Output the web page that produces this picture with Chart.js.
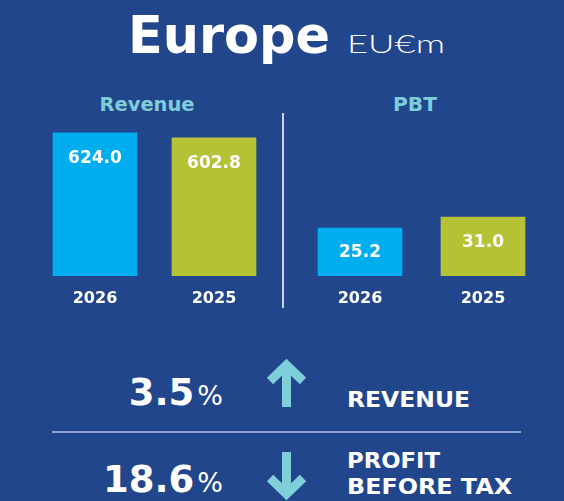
<!DOCTYPE html>
<html>
<head>
<meta charset="utf-8">
<script src="https://cdn.jsdelivr.net/npm/chart.js@4.4.1/dist/chart.umd.min.js"></script>
<style>
  html, body { margin: 0; padding: 0; }
  body { width: 564px; height: 501px; background: #22468c; position: relative; overflow: hidden; font-family: "DejaVu Sans", sans-serif; }
  svg { position: absolute; left: 0; top: 0; }
  .box { position: absolute; }
</style>
</head>
<body>
<script>
// ---- data ----
const categories = ['2026', '2025'];
const revenueValues = [624.0, 602.8];
const pbtValues = [25.2, 31.0];
const panelTitles = ['Revenue', 'PBT'];
const changeValues = ['3.5', '18.6'];
const changeDirections = ['up', 'down'];
const changeLabels = [['REVENUE'], ['PROFIT', 'BEFORE TAX']];
const revenueAxisMax = 680;
const pbtAxisMax = 82;
</script>

<svg width="564" height="501" xmlns="http://www.w3.org/2000/svg" id="deco">
  <text x="128" y="53" font-family="DejaVu Sans" font-weight="bold" font-size="51" fill="#ffffff" textLength="202" lengthAdjust="spacingAndGlyphs">Europe</text>
  <text x="347" y="53" font-family="Lato, DejaVu Sans" font-weight="300" font-size="25" fill="#ffffff" textLength="98" lengthAdjust="spacingAndGlyphs">EU€m</text>
  <text id="t0" x="147" y="111" text-anchor="middle" font-family="DejaVu Sans" font-weight="bold" font-size="20" fill="#7ecdda" textLength="95" lengthAdjust="spacingAndGlyphs"></text>
  <text id="t1" x="415" y="111" text-anchor="middle" font-family="DejaVu Sans" font-weight="bold" font-size="20" fill="#7ecdda" textLength="44" lengthAdjust="spacingAndGlyphs"></text>
  <line x1="283" y1="113" x2="283" y2="308" stroke="#c6d0ea" stroke-width="2"/>
  <line x1="52" y1="432" x2="521" y2="432" stroke="#8fa2cf" stroke-width="2"/>
  <g id="changes"></g>
</svg>

<div class="box" style="left:0px;top:113px;width:290px;height:220px;"><canvas id="rev"></canvas></div>
<div class="box" style="left:282px;top:113px;width:282px;height:220px;"><canvas id="pbt"></canvas></div>

<script>
document.getElementById('t0').textContent = panelTitles[0];
document.getElementById('t1').textContent = panelTitles[1];

// change rows
const NS = 'http://www.w3.org/2000/svg';
const g = document.getElementById('changes');
const rowBaselines = [405, 492];
const arrowColor = '#7fcfdb';
function el(name, attrs, text) {
  const e = document.createElementNS(NS, name);
  for (const k in attrs) e.setAttribute(k, attrs[k]);
  if (text !== undefined) e.textContent = text;
  g.appendChild(e);
  return e;
}
changeValues.forEach((v, i) => {
  const base = rowBaselines[i];
  const t = el('text', { x: 223, y: base, 'text-anchor': 'end', 'font-family': 'DejaVu Sans', fill: '#ffffff' });
  const a = document.createElementNS(NS, 'tspan');
  a.setAttribute('font-weight', 'bold'); a.setAttribute('font-size', '37');
  a.textContent = v;
  const b = document.createElementNS(NS, 'tspan');
  b.setAttribute('font-size', '27'); b.setAttribute('dx', '3');
  b.textContent = '%';
  t.appendChild(a); t.appendChild(b);
  // arrow
  if (changeDirections[i] === 'up') {
    const top = base - 43, bottom = base + 2;
    el('polyline', { points: `270,${top + 19} 286.5,${top + 3} 303,${top + 19}`, fill: 'none', stroke: arrowColor, 'stroke-width': 9, 'stroke-linejoin': 'miter' });
    el('line', { x1: 286.5, y1: top + 3, x2: 286.5, y2: bottom, stroke: arrowColor, 'stroke-width': 9 });
  } else {
    const top = base - 40, bottom = base + 5;
    el('polyline', { points: `270,${bottom - 19} 286.5,${bottom - 3} 303,${bottom - 19}`, fill: 'none', stroke: arrowColor, 'stroke-width': 9, 'stroke-linejoin': 'miter' });
    el('line', { x1: 286.5, y1: top, x2: 286.5, y2: bottom - 3, stroke: arrowColor, 'stroke-width': 9 });
  }
  // labels
  const lines = changeLabels[i];
  const widths = { 'REVENUE': 123, 'PROFIT': 93, 'BEFORE TAX': 165 };
  const startY = lines.length === 1 ? base + 2 : base - 24;
  lines.forEach((ln, j) => {
    el('text', { x: 347, y: startY + j * 26, 'font-family': 'DejaVu Sans', 'font-weight': 'bold', 'font-size': 21, fill: '#ffffff', textLength: widths[ln], lengthAdjust: 'spacingAndGlyphs' }, ln);
  });
});

const barColors = ['#00aeef', '#b6c236'];

const valueLabels = {
  id: 'valueLabels',
  afterDatasetsDraw(chart) {
    const ctx = chart.ctx;
    const meta = chart.getDatasetMeta(0);
    const data = chart.data.datasets[0].data;
    ctx.save();
    ctx.font = 'bold 17px "DejaVu Sans"';
    ctx.fillStyle = '#ffffff';
    ctx.textAlign = 'center';
    ctx.textBaseline = 'middle';
    meta.data.forEach((bar, i) => {
      const h = bar.base - bar.y;
      const y = bar.y + Math.min(25, h / 2) + 1;
      ctx.fillText(data[i].toFixed(1), bar.x, y);
    });
    ctx.restore();
  }
};

function makeChart(id, values, yMax, padding) {
  return new Chart(document.getElementById(id), {
    type: 'bar',
    data: {
      labels: categories,
      datasets: [{ data: values, backgroundColor: barColors, borderWidth: 0, barThickness: 84 }]
    },
    options: {
      responsive: true,
      maintainAspectRatio: false,
      devicePixelRatio: 1,
      animation: false,
      layout: { padding },
      plugins: { legend: { display: false }, tooltip: { enabled: false }, title: { display: false } },
      scales: {
        x: {
          grid: { display: false, drawTicks: false },
          border: { display: false },
          ticks: { color: '#ffffff', padding: 13, font: { family: 'DejaVu Sans', weight: 'bold', size: 16 } }
        },
        y: { display: false, min: 0, max: yMax }
      }
    },
    plugins: [valueLabels]
  });
}

makeChart('rev', revenueValues, revenueAxisMax, { left: 35.5, right: 16.5, top: 7, bottom: 11.8 });
makeChart('pbt', pbtValues, pbtAxisMax, { left: 16.5, right: 19.5, top: 7, bottom: 11.8 });
</script>
</body>
</html>
